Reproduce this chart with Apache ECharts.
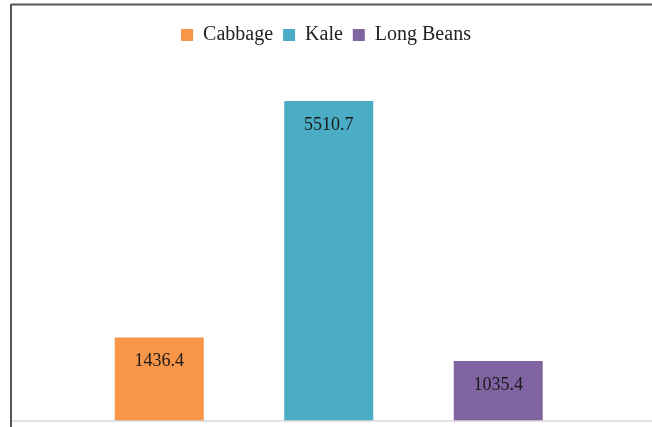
<!DOCTYPE html>
<html>
<head>
<meta charset="utf-8">
<script src="https://cdn.jsdelivr.net/npm/echarts@6/dist/echarts.min.js"></script>
<style>
html,body{margin:0;padding:0;background:#fff;}
#main{width:652px;height:427px;}
</style>
</head>
<body>
<div id="main"></div>
<script>
var categories = ['Cabbage', 'Kale', 'Long Beans'];
var values = [1436.4, 5510.7, 1035.4];
var colors = ['#F79646', '#4BACC6', '#8064A2'];

var series = categories.map(function (name, i) {
  var data = categories.map(function (c, j) { return j === i ? values[i] : '-'; });
  return {
    name: name,
    type: 'bar',
    stack: 'all',
    barWidth: 89,
    data: data,
    itemStyle: { color: colors[i] },
    label: {
      show: true,
      position: 'insideTop',
      distance: 15,
      fontFamily: 'Liberation Serif',
      fontSize: 18,
      color: '#1a1a1a'
    }
  };
});

var chart = echarts.init(document.getElementById('main'), null, { renderer: 'canvas' });
chart.setOption({
  animation: false,
  backgroundColor: '#fff',
  legend: {
    data: categories,
    top: 20,
    left: 'center',
    itemWidth: 12,
    itemHeight: 12,
    itemGap: 10,
    icon: 'rect',
    textStyle: {
      fontFamily: 'Liberation Serif',
      fontSize: 20,
      color: '#222',
      padding: [0, 0, 0, 5]
    }
  },
  grid: { left: 74.5, right: 69, top: 72.6, bottom: 6 },
  xAxis: {
    type: 'category',
    data: categories,
    axisLine: { show: false },
    axisTick: { show: false },
    axisLabel: { show: false }
  },
  yAxis: {
    type: 'value',
    min: 0,
    max: 6000,
    show: false,
    splitLine: { show: false }
  },
  graphic: [
    { type: 'line', shape: { x1: 12, y1: 421, x2: 652, y2: 421 }, style: { stroke: '#d9d9d9', lineWidth: 1.5 }, z: 10 },
    { type: 'line', shape: { x1: 11, y1: 4.5, x2: 652, y2: 4.5 }, style: { stroke: '#555', lineWidth: 2 }, z: 10 },
    { type: 'line', shape: { x1: 11, y1: 4, x2: 11, y2: 427 }, style: { stroke: '#555', lineWidth: 2 }, z: 10 }
  ],
  series: series
});
</script>
</body>
</html>
